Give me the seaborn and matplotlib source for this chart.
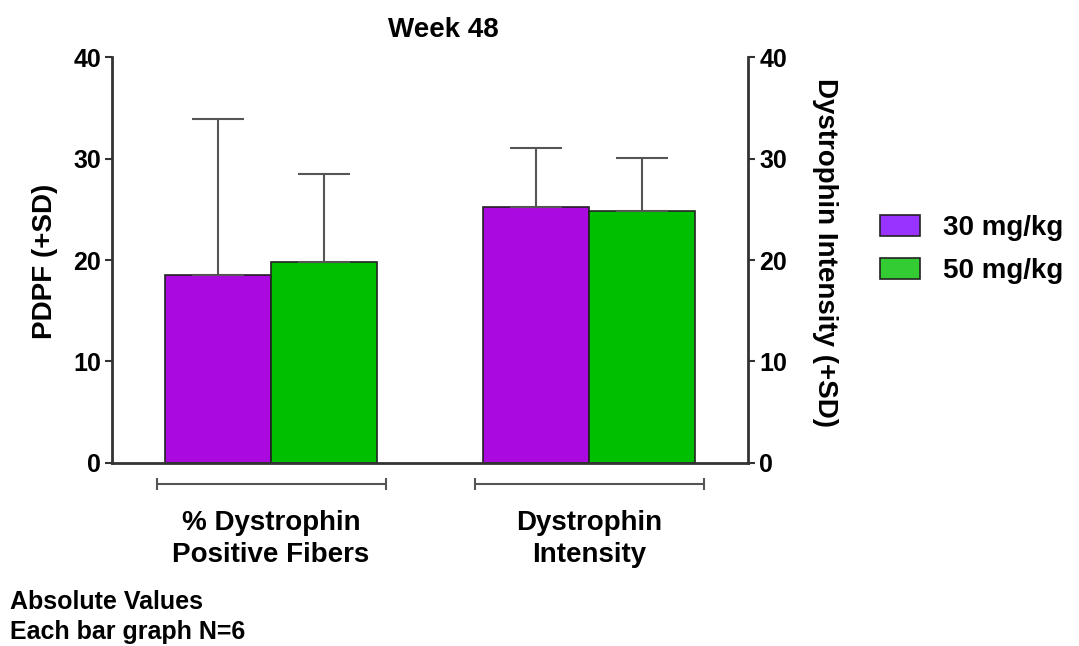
import matplotlib
matplotlib.use("Agg")
import matplotlib.pyplot as plt
import seaborn as sns
import pandas as pd
from matplotlib.patches import Patch
from matplotlib.transforms import blended_transform_factory

# Data: week 48 dystrophin measures by dose (mean and +SD)
measures = ["% Dystrophin\nPositive Fibers", "Dystrophin\nIntensity"]
doses = ["30 mg/kg", "50 mg/kg"]
mean_30 = [18.5, 25.2]
mean_50 = [19.85, 24.85]
sd_30 = [15.45, 5.9]
sd_50 = [8.6, 5.2]
yticks = [0, 10, 20, 30, 40]

bar_colors = ["#AA0ADF", "#00BF00"]
legend_colors = ["#9933FF", "#33CC33"]

sns.set_style("white")
plt.rcParams["font.family"] = ["Liberation Sans", "DejaVu Sans"]
plt.rcParams["font.weight"] = "bold"
plt.rcParams["axes.labelweight"] = "bold"
plt.rcParams["text.color"] = "black"
plt.rcParams["xtick.color"] = "black"
plt.rcParams["ytick.color"] = "black"
plt.rcParams["xtick.labelcolor"] = "black"
plt.rcParams["ytick.labelcolor"] = "black"

df = pd.DataFrame({
    "measure": measures * 2,
    "dose": [doses[0]] * 2 + [doses[1]] * 2,
    "value": mean_30 + mean_50,
})

fig = plt.figure(figsize=(10.79, 6.46), dpi=100)
ax = fig.add_axes([0.1038, 0.2837, 0.5897, 0.6276])

sns.barplot(data=df, x="measure", y="value", hue="dose", order=measures,
            hue_order=doses, palette=bar_colors, width=0.667, errorbar=None,
            edgecolor="#222222", linewidth=1.2, saturation=1, legend=False,
            ax=ax)

# one-sided (+SD) error bars on top of each bar
for cont, sds in zip(ax.containers, [sd_30, sd_50]):
    for bar, sd in zip(cont, sds):
        cx = bar.get_x() + bar.get_width() / 2
        ax.errorbar(cx, bar.get_height(), yerr=[[0], [sd]], fmt="none",
                    ecolor="#555555", elinewidth=1.5, capsize=18.7,
                    capthick=1.5, zorder=1)

ax.set_xlim(-0.5, 1.5)
ax.set_ylim(0, 40)
ax.set_yticks(yticks)
ax.set_xlabel("")
ax.set_ylabel("")
ax.set_xticks([0, 1])
ax.set_xticklabels(measures, fontsize=20, fontweight="bold", linespacing=1.31,
                   color="black")
ax.tick_params(axis="x", length=0, pad=34)
ax.tick_params(axis="y", direction="out", length=5, width=1.5, color="#333333",
               labelsize=18, pad=3, left=True, labelcolor="black")

for s in ["top", "right"]:
    ax.spines[s].set_visible(False)
for s in ["left", "bottom"]:
    ax.spines[s].set_color("#333333")
    ax.spines[s].set_linewidth(2)

ax2 = ax.twinx()
ax2.set_ylim(0, 40)
ax2.set_yticks(yticks)
ax2.tick_params(axis="y", direction="out", length=5, width=1.5, color="#333333",
                labelsize=18, pad=3, right=True, labelcolor="black")
for s in ["top", "left", "bottom"]:
    ax2.spines[s].set_visible(False)
ax2.spines["right"].set_color("#333333")
ax2.spines["right"].set_linewidth(2)
ax2.grid(False)

# group brackets below the axis
trans = blended_transform_factory(ax.transData, ax.transAxes)
for i in range(len(measures)):
    ax.plot([i - 0.36, i + 0.36], [-0.052, -0.052], transform=trans,
            clip_on=False, color="#555555", lw=1.5, marker="|",
            markersize=8, markeredgewidth=1.5)

fig.text(443 / 1079, 1 - 30 / 646, "Week 48", ha="center", va="center",
         fontsize=20, fontweight="bold")
fig.text(45 / 1079, 1 - 261 / 646, "PDPF (+SD)", rotation=90, ha="center",
         va="center", fontsize=20, fontweight="bold")
fig.text(825 / 1079, 1 - 253 / 646, "Dystrophin Intensity (+SD)", rotation=270,
         ha="center", va="center", fontsize=20, fontweight="bold")
fig.text(10 / 1079, 1 - 602 / 646, "Absolute Values", ha="left", va="center",
         fontsize=18, fontweight="bold")
fig.text(10 / 1079, 1 - 632 / 646, "Each bar graph N=6", ha="left", va="center",
         fontsize=18, fontweight="bold")

handles = [Patch(facecolor=c, edgecolor="#222222", linewidth=1.2)
           for c in legend_colors]
fig.legend(handles, doses, loc="upper left",
           bbox_to_anchor=(880 / 1079, 1 - 215 / 646), frameon=False,
           fontsize=20, handlelength=1.44, handleheight=0.8,
           handletextpad=0.83, labelspacing=0.6, borderpad=0,
           borderaxespad=0)

fig.savefig("out.png", dpi=100)
